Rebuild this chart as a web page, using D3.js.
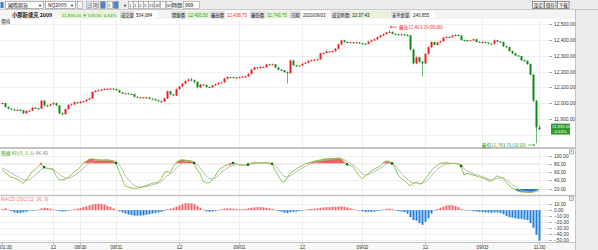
<!DOCTYPE html>
<html>
<head>
<meta charset="utf-8">
<script src="https://cdn.jsdelivr.net/npm/d3@7"></script>
<style>
body { margin: 0; background: #fff; overflow: hidden; }
text { font-family: "Liberation Sans", "Noto Sans CJK TC", sans-serif; }
.cjk { font-family: "Noto Sans CJK TC", sans-serif; }
</style>
</head>
<body>
<script>
// 30 min bars, [open, high, low, close]
const candles = [
  [11998,12004,11992,12000],[12000,12003,11970,11975],[11975,11980,11960,11965],[11965,11968,11955,11960],
  [11960,11963,11950,11955],[11955,11962,11951,11957],[11957,11960,11948,11954],[11954,11957,11930,11935],
  [11935,11954,11932,11950],[11950,11958,11946,11952],[11952,11975,11950,11970],[11970,11974,11962,11966],
  [11966,11970,11960,11965],[11965,12022,11962,12015],[12015,12018,11978,11985],[11985,11990,11976,11984],
  [11984,11996,11980,11992],[11992,12005,11988,12000],[12000,12003,11980,11985],[11985,11988,11928,11935],
  [11935,11942,11922,11930],[11930,11966,11926,11962],[11962,11992,11958,11988],[11988,11998,11984,11992],
  [11992,12012,11988,12005],[12005,12008,11995,12000],[12000,12012,11996,12008],[12008,12016,12004,12012],
  [12012,12026,12008,12022],[12022,12034,12018,12030],[12030,12074,12026,12070],[12070,12082,12066,12078],
  [12078,12086,12074,12082],[12082,12090,12078,12086],[12086,12094,12082,12090],[12090,12095,12085,12090],
  [12090,12097,12086,12092],[12092,12096,12086,12090],[12090,12093,12078,12082],[12082,12085,12064,12068],
  [12068,12072,12056,12060],[12060,12066,12056,12062],[12062,12065,12054,12058],[12058,12062,12053,12057],
  [12057,12060,12036,12040],[12040,12043,12031,12035],[12035,12040,12032,12036],[12036,12039,12030,12034],
  [12034,12040,12031,12036],[12036,12038,12024,12028],[12028,12031,12021,12025],[12025,12028,12014,12018],
  [12018,12021,12006,12012],[12012,12016,12000,12010],[12010,12034,12006,12030],[12030,12080,12026,12075],
  [12075,12078,12050,12055],[12055,12060,12044,12048],[12048,12092,12044,12088],[12088,12110,12084,12105],
  [12105,12128,12100,12124],[12124,12145,12120,12140],[12140,12156,12136,12150],[12150,12160,12138,12145],
  [12145,12150,12125,12135],[12135,12138,12092,12100],[12100,12122,12096,12118],[12118,12121,12110,12115],
  [12115,12118,12098,12102],[12102,12106,12096,12100],[12100,12116,12097,12112],[12112,12124,12108,12120],
  [12120,12132,12116,12128],[12128,12136,12124,12132],[12132,12160,12128,12155],[12155,12170,12150,12165],
  [12165,12168,12158,12164],[12164,12167,12156,12160],[12160,12166,12156,12162],[12162,12169,12158,12165],
  [12165,12172,12161,12168],[12168,12174,12164,12170],[12170,12190,12166,12185],[12185,12216,12182,12212],
  [12212,12230,12208,12226],[12226,12229,12216,12222],[12222,12234,12218,12230],[12230,12234,12224,12228],
  [12228,12250,12224,12245],[12245,12249,12240,12244],[12244,12251,12240,12246],[12246,12248,12222,12226],
  [12226,12229,12208,12212],[12212,12216,12204,12208],[12208,12211,12192,12197],[12197,12200,12124,12190],
  [12190,12276,12186,12270],[12270,12274,12236,12240],[12240,12244,12230,12236],[12236,12242,12232,12238],
  [12238,12254,12234,12250],[12250,12260,12246,12256],[12256,12272,12252,12268],[12268,12276,12264,12272],
  [12272,12280,12268,12275],[12275,12284,12271,12278],[12278,12320,12274,12315],[12315,12322,12310,12318],
  [12318,12332,12314,12328],[12328,12331,12320,12326],[12326,12334,12322,12330],[12330,12350,12326,12345],
  [12345,12378,12341,12372],[12372,12402,12368,12398],[12398,12402,12384,12388],[12388,12391,12380,12385],
  [12385,12390,12381,12386],[12386,12389,12379,12384],[12384,12389,12380,12385],[12385,12388,12376,12380],
  [12380,12383,12372,12377],[12377,12380,12371,12376],[12376,12394,12372,12390],[12390,12402,12386,12398],
  [12398,12410,12394,12405],[12405,12422,12401,12418],[12418,12434,12414,12430],[12430,12442,12426,12438],
  [12438,12452,12434,12448],[12448,12463.25,12444,12452],[12452,12455,12436,12440],[12440,12444,12432,12436],
  [12436,12440,12430,12434],[12434,12441,12430,12436],[12436,12439,12428,12432],[12432,12436,12426,12430],
  [12430,12433,12332,12340],[12340,12345,12245,12252],[12252,12296,12248,12290],[12290,12294,12256,12262],
  [12262,12268,12170,12252],[12252,12318,12248,12312],[12312,12360,12308,12355],[12355,12392,12350,12387],
  [12387,12390,12365,12370],[12370,12390,12366,12385],[12385,12396,12380,12392],[12392,12420,12388,12415],
  [12415,12425,12410,12420],[12420,12424,12412,12418],[12418,12432,12414,12428],[12428,12438,12424,12432],
  [12432,12436,12424,12428],[12428,12431,12396,12400],[12400,12404,12392,12398],[12398,12402,12390,12396],
  [12396,12402,12392,12398],[12398,12410,12394,12405],[12405,12408,12384,12388],[12388,12392,12382,12386],
  [12386,12392,12382,12387],[12387,12390,12380,12384],[12384,12387,12372,12377],[12377,12380,12370,12376],
  [12376,12403,12372,12398],[12398,12401,12386,12390],[12390,12394,12384,12388],[12388,12391,12355,12360],
  [12360,12364,12350,12355],[12355,12358,12326,12330],[12330,12334,12310,12315],[12315,12319,12298,12302],
  [12302,12306,12294,12298],[12298,12301,12266,12272],[12272,12276,12262,12268],[12268,12272,12242,12248],
  [12248,12252,12175,12180],[12180,12185,12005,12015],[12015,12020,11743.75,11846],[11846,11860,11828,11835]
];

const kValues = [
  66,60,53,48,46,43,38,33,40,50,61,66,73,80,72,68,68,66,52,42,
  41,43,47,53,60,65,72,81,86,91,92,91,90,89,89,90,88,87,82,62,
  44,27,24,22,21,21,23,25,27,30,33,34,36,42,58,62,57,72,82,88,
  90,89,88,87,82,66,57,38,34,34,41,50,62,70,74,77,79,82,80,77,
  77,77,78,82,83,83,82,83,83,82,80,65,52,40,35,45,57,62,67,72,
  75,80,82,84,86,88,89,91,92,93,93,93,94,93,85,79,76,73,62,52,
  44,50,56,62,67,71,74,82,87,86,81,70,53,45,40,33,27,32,36,31,
  33,43,52,63,70,76,81,82,83,82,81,81,80,75,53,57,55,53,51,48,
  46,44,40,37,45,51,48,45,36,28,22,18,14,12,12,11,11,12,15,18
];

const dValues = [
  70,67,63,58,54,50,46,42,40,41,46,52,58,66,70,70,69,68,62,55,
  50,46,45,47,51,56,62,69,75,81,85,88,89,89,89,89,89,88,86,78,
  67,53,43,35,29,25,24,24,25,27,29,31,33,36,44,51,54,61,68,76,
  82,85,87,87,85,78,71,60,51,45,43,45,51,58,64,69,73,76,78,78,
  78,77,77,79,80,81,82,82,82,82,81,76,68,58,50,48,51,55,60,65,
  69,73,77,80,82,84,86,88,89,91,92,92,93,93,90,86,82,78,72,64,
  56,53,54,57,61,65,69,74,79,82,82,77,68,59,51,44,37,34,34,33,
  33,36,42,50,58,66,72,76,79,80,81,81,81,78,68,63,59,56,54,52,
  49,47,44,41,42,45,46,46,42,36,30,25,20,16,14,13,12,12,13,15
];

const oscValues = [
  2,3,1,-2,-4,-5,-5,-4,-3,-1,-1,-0.5,1,3,4,3.5,2.5,1,-1,-2,
  -2.5,-2,-1,0.5,1.5,2.5,3.5,5,6.5,8,9.5,10.5,11,10.5,9.5,7.5,5.5,3,0.5,-2,
  -4,-6,-7.5,-8.5,-9.5,-9.5,-9.5,-9,-8,-7,-6,-5,-4,-3,-1.5,1.5,2.5,4,6,8,
  10,11.5,12,11.5,10,7,4,1,-2,-3,-2.5,-1.5,0.5,1.5,2.5,3,3,2.5,2,1.5,
  1.5,2,3,4,4.5,5,5,4.5,4,3,2,0.5,-1.5,-3,-4.5,-5,-3.5,-3,-2.5,-1.5,
  -0.5,1,1.5,2,2.5,3,4,4.5,5,5,5.5,5.5,6,6.5,5.5,4.5,3,1.5,0.5,-1,
  -2,-3,-3,-3,-2.5,-1.5,-0.5,1,2,2.5,1.5,-1,-2,-2.5,-3.5,-6,-12,-17,-18,-22,
  -25,-20,-14,-6,-1,2,4,6,8,8.5,8,7,5,2,0.5,-0.5,-1,-2,-2.5,-3,
  -3.5,-4,-4,-4.5,-4,-4,-5,-7,-10,-12,-13,-14,-15,-15,-16,-17,-22,-30,-42,-52
];

const priceTicks = [12500, 12400, 12300, 12200, 12100, 12000, 11900, 11800];
const kdTicks = [100, 80, 60, 40, 20];
const oscTicks = [10, 0, -10, -20, -30, -40, -50];
const timeTickBars = [0, 17, 26, 38, 59, 79, 100, 120, 141, 160, 179];
const timeTickLabels = ["01:30", "12", "08/30", "08/31", "12", "09/01", "12", "09/02", "12", "09/03", "11:00"];
const crossDots = [14, 38, 64, 77, 82, 90, 115, 130, 153];
const warnDots = [13, 76];

const width = 598;
const height = 250;
const RED = '#ee1d25';
const GREEN = '#0e8a16';

const svg = d3.create('svg')
  .attr('width', width)
  .attr('height', height)
  .style('display', 'block')
  .style('background-color', '#fff');
document.body.appendChild(svg.node());

const x = d3.scaleLinear().domain([0, candles.length - 1]).range([2, 539]);
const yPrice = d3.scaleLinear().domain([11800, 12500]).range([134.6, 24.3]);
const yKD = d3.scaleLinear().domain([20, 100]).range([188.7, 155.5]);
const yOsc = d3.scaleLinear().domain([-50, 10]).range([239.5, 204.2]);

const fmt2 = d3.format(',.2f');

// ---- toolbar row
svg.append('rect').attr('x', 0).attr('y', 0).attr('width', width).attr('height', 10).attr('fill', '#ececec');
svg.append('line').attr('x1', 0).attr('x2', width).attr('y1', 9.5).attr('y2', 9.5).attr('stroke', '#c9c9c9');
svg.append('rect').attr('x', 0.5).attr('y', 2).attr('width', 3).attr('height', 6).attr('fill', '#3d7fd0');

function dropBox(x0, w, label) {
  svg.append('rect').attr('x', x0 + 0.5).attr('y', 1.5).attr('width', w).attr('height', 7)
    .attr('fill', '#fff').attr('stroke', '#8a8a8a').attr('stroke-width', 0.6);
  svg.append('text').attr('class', 'cjk').attr('x', x0 + 3).attr('y', 7.2).attr('font-size', 5).attr('fill', '#222').text(label);
  svg.append('text').attr('x', x0 + w - 5).attr('y', 7).attr('font-size', 4).attr('fill', '#222').text('▼');
}
dropBox(5, 38, '國際期貨');
dropBox(45, 30, 'NQ2009');

const toolBtns = [[77, ''], [86, '日'], [93, '時'], [100, ''], [107, '1'], [113, ''], [128, '1'], [133, '2'], [138, '3'], [143, '5'], [148, '15'], [154, '30'], [160, ''], [166, '60']];
toolBtns.forEach(([bx, t], i) => {
  svg.append('rect').attr('x', bx + 0.5).attr('y', 1.5).attr('width', t.length > 1 ? 5.5 : 4.8).attr('height', 7)
    .attr('fill', (i === 3 || i === 5) ? '#4a86d6' : '#f7f7f7').attr('stroke', '#8a8a8a').attr('stroke-width', 0.5);
  if (t) svg.append('text').attr('class', 'cjk').attr('x', bx + 0.9).attr('y', 7).attr('font-size', 4.2).attr('fill', '#333').text(t);
});
svg.append('text').attr('x', 123).attr('y', 7).attr('font-size', 4).attr('fill', '#222').text('▼');
svg.append('text').attr('class', 'cjk').attr('x', 172).attr('y', 7.3).attr('font-size', 5).attr('fill', '#222').text('時間');
svg.append('rect').attr('x', 183.5).attr('y', 1.5).attr('width', 16).attr('height', 7).attr('fill', '#fff').attr('stroke', '#8a8a8a').attr('stroke-width', 0.5);
svg.append('text').attr('x', 185).attr('y', 7.2).attr('font-size', 5).attr('fill', '#222').text('999');

[[532, '設定'], [544, '儲存'], [557, '下載']].forEach(([bx, t]) => {
  svg.append('rect').attr('x', bx + 0.5).attr('y', 1.5).attr('width', 11.5).attr('height', 7)
    .attr('fill', '#f6f6f6').attr('stroke', '#555').attr('stroke-width', 0.6);
  svg.append('text').attr('class', 'cjk').attr('x', bx + 1.8).attr('y', 7.2).attr('font-size', 4.5).attr('fill', '#111').text(t);
});

// ---- info row
svg.append('rect').attr('x', 0).attr('y', 10).attr('width', width).attr('height', 9).attr('fill', '#f4f4f4');
svg.append('text').attr('class', 'cjk').attr('x', 12).attr('y', 17).attr('font-size', 5.3).attr('font-weight', 'bold').attr('fill', '#222').text('小那斯達克 2009');
svg.append('rect').attr('x', 60).attr('y', 11).attr('width', 58).attr('height', 7).attr('fill', '#e7f3d8');
svg.append('text').attr('x', 62).attr('y', 16.6).attr('font-size', 4.4).attr('fill', '#2e9a2e').attr('xml:space', 'preserve').text('11,835.00 ▼ 576.50  4.64%');

// label x, label, value x, value, colour, value background
const infoCells = [
  [121, '成交量', 135, '504,084', '#222', '#fff'],
  [172, '開盤價', 187, '12,400.50', '#2e9a2e', '#e7f3d8'],
  [211, '最高價', 226, '12,438.75', RED, '#fff'],
  [251, '最低價', 266, '11,743.75', '#2e9a2e', '#e7f3d8'],
  [291, '日期', 302, '2020/09/03', '#222', '#fff'],
  [332, '成交時間', 351, '10:37:43', '#222', '#e7f3d8'],
  [392, '未平倉量', 412, '240,855', '#222', '#fff']
];
infoCells.forEach(([lx, lab, vx, val, col, bg]) => {
  const lw = lab.length * 4.4 + 2;
  svg.append('rect').attr('x', lx - 1).attr('y', 11).attr('width', lw).attr('height', 7).attr('fill', '#dedede');
  svg.append('text').attr('class', 'cjk').attr('x', lx).attr('y', 16.6).attr('font-size', 4.3).attr('fill', '#222').text(lab);
  svg.append('rect').attr('x', vx - 1).attr('y', 11).attr('width', (lab === '成交時間' ? 40 : val.length * 2.5 + 6)).attr('height', 7).attr('fill', bg);
  svg.append('text').attr('x', vx + 1).attr('y', 16.6).attr('font-size', 4.5).attr('fill', col).text(val);
});

// ---- right gray margin
svg.append('rect').attr('x', 575).attr('y', 10).attr('width', 23).attr('height', 240).attr('fill', '#ebebeb');
svg.append('line').attr('x1', 575.5).attr('x2', 575.5).attr('y1', 10).attr('y2', 250).attr('stroke', '#c4c4c4');

// ---- grid
const grid = svg.append('g').attr('stroke', '#ebebeb').attr('stroke-width', 0.8);
timeTickBars.slice(1).forEach(b => {
  grid.append('line').attr('x1', Math.round(x(b)) + 0.5).attr('x2', Math.round(x(b)) + 0.5).attr('y1', 20).attr('y2', 243);
});
priceTicks.forEach(v => grid.append('line').attr('x1', 0).attr('x2', 549).attr('y1', Math.round(yPrice(v)) + 0.5).attr('y2', Math.round(yPrice(v)) + 0.5));
kdTicks.forEach(v => grid.append('line').attr('x1', 0).attr('x2', 549).attr('y1', Math.round(yKD(v)) + 0.5).attr('y2', Math.round(yKD(v)) + 0.5));
oscTicks.forEach(v => grid.append('line').attr('x1', 0).attr('x2', 549).attr('y1', Math.round(yOsc(v)) + 0.5).attr('y2', Math.round(yOsc(v)) + 0.5));

// panel separators
[[148, 2.2], [195.5, 1.5], [242.5, 1]].forEach(([yy, w]) => {
  svg.append('line').attr('x1', 0).attr('x2', 575).attr('y1', yy).attr('y2', yy).attr('stroke', '#c3c3c3').attr('stroke-width', w);
});

// ---- right axes
function rightAxis(scale, ticks, fmt) {
  ticks.forEach(v => {
    const yy = Math.round(scale(v)) + 0.5;
    svg.append('line').attr('x1', 549).attr('x2', 552).attr('y1', yy).attr('y2', yy).attr('stroke', '#777').attr('stroke-width', 0.6);
    svg.append('text').attr('x', 554).attr('y', yy + 1.8).attr('font-size', 4.8).attr('fill', '#333').text(fmt(v));
  });
}
rightAxis(yPrice, priceTicks.slice(0, 7), fmt2);
rightAxis(yKD, kdTicks, d3.format('.2f'));
rightAxis(yOsc, oscTicks, d3.format('.2f'));

// close boxes
[150, 196.5].forEach(yy => {
  svg.append('rect').attr('x', 569.5).attr('y', yy).attr('width', 4).attr('height', 4).attr('fill', '#fff').attr('stroke', '#666').attr('stroke-width', 0.5);
  svg.append('text').attr('x', 570.3).attr('y', yy + 3.4).attr('font-size', 4).attr('fill', '#333').text('×');
});

// ---- panel titles
svg.append('text').attr('class', 'cjk').attr('x', 1).attr('y', 22.5).attr('font-size', 4.8).attr('fill', '#333').text('價格');
const kdTitle = svg.append('text').attr('x', 1).attr('y', 154.5).attr('font-size', 4.8);
kdTitle.append('tspan').attr('class', 'cjk').attr('fill', '#4aa526').text('隨機 KD(9, 3, 3)');
kdTitle.append('tspan').attr('fill', '#888').text(' 4K 40');
svg.append('text').attr('x', 1).attr('y', 200.5).attr('font-size', 4.8).attr('fill', '#f07a7a').text('MACD OSC(12, 26, 9)');

// ---- candles
const cg = svg.append('g');
candles.forEach((c, i) => {
  const [o, h, l, cl] = c;
  const col = cl >= o ? RED : GREEN;
  const cx = Math.round(x(i));
  cg.append('line').attr('x1', cx + 0.5).attr('x2', cx + 0.5).attr('y1', yPrice(h)).attr('y2', yPrice(l))
    .attr('stroke', col).attr('stroke-width', 0.8).attr('stroke-opacity', 0.75);
  const top = yPrice(Math.max(o, cl));
  const bh = Math.max(1, yPrice(Math.min(o, cl)) - top);
  cg.append('rect').attr('x', cx - 0.5).attr('y', top).attr('width', 2).attr('height', bh).attr('fill', col);
});

// high / low markers (arrow drawn as a line, label beside it)
let hiIdx = 0, loIdx = 0;
candles.forEach((c, i) => {
  if (c[1] > candles[hiIdx][1]) hiIdx = i;
  if (c[2] < candles[loIdx][2]) loIdx = i;
});
const hiX = x(hiIdx), hiY = yPrice(candles[hiIdx][1]) - 3;
const loX = x(loIdx), loY = yPrice(candles[loIdx][2]) + 1.5;
svg.append('path').attr('d', `M${hiX + 1},${hiY} h7 M${hiX + 1},${hiY} l2,-1.2 M${hiX + 1},${hiY} l2,1.2`)
  .attr('stroke', RED).attr('stroke-width', 0.6).attr('fill', 'none');
svg.append('text').attr('class', 'cjk').attr('x', hiX + 10).attr('y', hiY + 1.6)
  .attr('font-size', 4.6).attr('fill', RED).text('最高12,463.25(05:00)');
svg.append('path').attr('d', `M${loX - 1},${loY} h-7 M${loX - 1},${loY} l-2,-1.2 M${loX - 1},${loY} l-2,1.2`)
  .attr('stroke', '#2e9a2e').attr('stroke-width', 0.6).attr('fill', 'none');
svg.append('text').attr('class', 'cjk').attr('x', loX - 10).attr('y', loY + 1.6)
  .attr('text-anchor', 'end').attr('font-size', 4.6).attr('fill', '#2e9a2e').text('最低11,743.75(10:30)');

// current price tag
const last = candles[candles.length - 1][3];
svg.append('rect').attr('x', 551).attr('y', yPrice(last) - 5.5).attr('width', 19).attr('height', 11).attr('fill', '#2f9b2f');
svg.append('text').attr('x', 552).attr('y', yPrice(last) - 0.8).attr('font-size', 4.3).attr('fill', '#fff').text(fmt2(last));
svg.append('text').attr('x', 553).attr('y', yPrice(last) + 4).attr('font-size', 4.3).attr('fill', '#fff').text('-4.64%');

// ---- KD panel
const kdData = kValues.map((k, i) => ({ i, k, d: dValues[i] }));
const defs = svg.append('defs');
defs.append('clipPath').attr('id', 'above80').append('rect')
  .attr('x', 0).attr('y', 150).attr('width', 549).attr('height', yKD(80) - 150 - 0.4);
defs.append('clipPath').attr('id', 'below20').append('rect')
  .attr('x', 0).attr('y', yKD(20) + 0.4).attr('width', 549).attr('height', 195 - yKD(20));

svg.append('path').datum(kdData).attr('clip-path', 'url(#above80)')
  .attr('d', d3.area().x(d => x(d.i)).y0(yKD(80)).y1(d => yKD(d.k)))
  .attr('fill', '#f0605c');
svg.append('path').datum(kdData).attr('clip-path', 'url(#below20)')
  .attr('d', d3.area().x(d => x(d.i)).y0(yKD(20)).y1(d => yKD(d.k)))
  .attr('fill', '#1f79d3');

svg.append('path').datum(kdData)
  .attr('d', d3.line().x(d => x(d.i)).y(d => yKD(d.d)))
  .attr('fill', 'none').attr('stroke', '#b5b5b5').attr('stroke-width', 0.9);
svg.append('path').datum(kdData)
  .attr('d', d3.line().x(d => x(d.i)).y(d => yKD(d.k)))
  .attr('fill', 'none').attr('stroke', '#8ccb4e').attr('stroke-width', 1);

svg.selectAll('.cross').data(crossDots).enter().append('circle')
  .attr('cx', i => x(i)).attr('cy', i => yKD(kValues[i])).attr('r', 1.3).attr('fill', '#0b6e16');
svg.selectAll('.warn').data(warnDots).enter().append('circle')
  .attr('cx', i => x(i)).attr('cy', i => yKD(kValues[i])).attr('r', 1.2).attr('fill', '#e0834a');

// ---- MACD OSC
svg.append('g').selectAll('rect').data(oscValues).enter().append('rect')
  .attr('x', (v, i) => Math.round(x(i)) - 0.5)
  .attr('y', v => Math.min(yOsc(v), yOsc(0)))
  .attr('width', 2)
  .attr('height', v => Math.max(0.6, Math.abs(yOsc(v) - yOsc(0))))
  .attr('fill', v => v >= 0 ? '#f5646a' : '#2482dc');

// ---- time axis
svg.append('rect').attr('x', 0).attr('y', 243).attr('width', 575).attr('height', 7).attr('fill', '#f7f7f7');
timeTickBars.forEach((b, k) => {
  const tx = Math.round(x(b)) + 0.5;
  svg.append('line').attr('x1', tx).attr('x2', tx).attr('y1', 243).attr('y2', 245).attr('stroke', '#888').attr('stroke-width', 0.5);
  svg.append('text').attr('x', k === 0 ? 0 : tx).attr('y', 248.5)
    .attr('text-anchor', k === 0 ? 'start' : 'middle')
    .attr('font-size', 4.8).attr('fill', '#333').text(timeTickLabels[k]);
});
</script>
</body>
</html>
